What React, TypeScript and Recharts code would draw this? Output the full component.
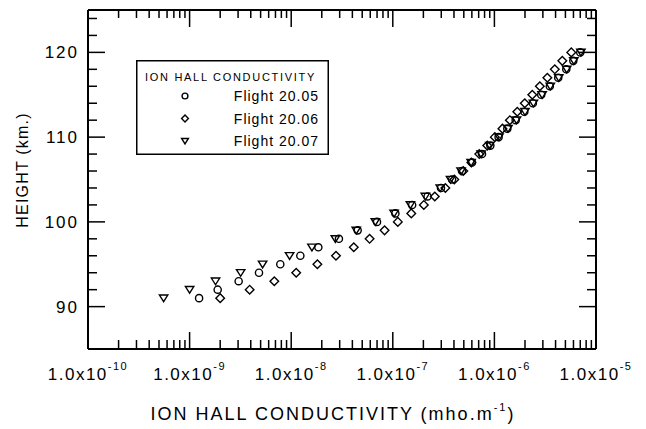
import { ScatterChart, Scatter, XAxis, YAxis, Legend } from "recharts";

// heights (km) shared by all three flights
const heights = [
  91, 92, 93, 94, 95, 96, 97, 98, 99, 100, 101, 102, 103, 104, 105, 106, 107, 108, 109, 110, 111, 112, 113,
  114, 115, 116, 117, 118, 119, 120,
];

// ion Hall conductivity, mho/m
const flight2005 = [
  1.24e-9, 1.89e-9, 3.04e-9, 4.82e-9, 7.81e-9, 1.23e-8, 1.85e-8, 2.95e-8, 4.51e-8, 6.99e-8, 1.06e-7, 1.55e-7,
  2.2e-7, 2.98e-7, 3.83e-7, 4.8e-7, 6.02e-7, 7.55e-7, 9.12e-7, 1.1e-6, 1.34e-6, 1.62e-6, 1.97e-6, 2.39e-6,
  2.89e-6, 3.51e-6, 4.25e-6, 5.1e-6, 5.98e-6, 7.0e-6,
];
const flight2006 = [
  2.0e-9, 3.9e-9, 6.82e-9, 1.12e-8, 1.81e-8, 2.76e-8, 4.13e-8, 5.91e-8, 8.3e-8, 1.12e-7, 1.52e-7, 2.02e-7,
  2.59e-7, 3.29e-7, 4.03e-7, 4.94e-7, 5.93e-7, 7.1e-7, 8.51e-7, 1.01e-6, 1.2e-6, 1.42e-6, 1.68e-6, 1.99e-6,
  2.36e-6, 2.8e-6, 3.32e-6, 3.93e-6, 4.66e-6, 5.71e-6,
];
const flight2007 = [
  5.55e-10, 1.0e-9, 1.8e-9, 3.18e-9, 5.23e-9, 9.64e-9, 1.6e-8, 2.72e-8, 4.37e-8, 6.73e-8, 1.03e-7, 1.49e-7,
  2.09e-7, 2.93e-7, 3.7e-7, 4.7e-7, 5.9e-7, 7.4e-7, 9.0e-7, 1.11e-6, 1.36e-6, 1.65e-6, 2.0e-6, 2.42e-6,
  2.95e-6, 3.55e-6, 4.3e-6, 5.15e-6, 6.05e-6, 7.1e-6,
];

const xMajor = [1e-10, 1e-9, 1e-8, 1e-7, 1e-6, 1e-5];
const xExponents = ["-10", "-9", "-8", "-7", "-6", "-5"];
const xMinorSteps = [2, 3, 4, 5, 6, 7, 8, 9];
const yMajor = [90, 100, 110, 120];
const yMinor = [92, 94, 96, 98, 102, 104, 106, 108, 112, 114, 116, 118, 122, 124];

const legendTitle = "ION HALL CONDUCTIVITY";
const seriesNames = ["Flight 20.05", "Flight 20.06", "Flight 20.07"];

const FONT = '"Liberation Sans", Arial, Helvetica, sans-serif';

const xTicks: number[] = [];
xMajor.forEach((m, i) => {
  xTicks.push(m);
  if (i < xMajor.length - 1) xMinorSteps.forEach((k) => xTicks.push(m * k));
});
const yTicks = [...yMajor, ...yMinor].sort((a, b) => a - b);

const toPoints = (vals: number[]) => vals.map((v, i) => ({ x: v, y: heights[i] }));
const d2005 = toPoints(flight2005);
const d2006 = toPoints(flight2006);
const d2007 = toPoints(flight2007);

const majorIdx = (v: number) => xMajor.findIndex((m) => Math.abs(v / m - 1) < 1e-6);

function Circle({ cx, cy, r = 3.6 }: any) {
  return <circle cx={cx} cy={cy} r={r} fill="none" stroke="#000" strokeWidth={1.4} />;
}
function Diamond({ cx, cy, s = 4.3 }: any) {
  return (
    <path
      d={`M${cx},${cy - s}L${cx + s},${cy}L${cx},${cy + s}L${cx - s},${cy}Z`}
      fill="none"
      stroke="#000"
      strokeWidth={1.4}
    />
  );
}
function Triangle({ cx, cy, s = 4.2 }: any) {
  return (
    <path
      d={`M${cx - s},${cy - s * 0.75}L${cx + s},${cy - s * 0.75}L${cx},${cy + s * 0.85}Z`}
      fill="none"
      stroke="#000"
      strokeWidth={1.4}
    />
  );
}

function BottomTick({ x, y, payload }: any) {
  const i = majorIdx(payload.value);
  const major = i >= 0;
  return (
    <g>
      <line x1={x} x2={x} y1={y} y2={y - (major ? 17 : 9)} stroke="#000" strokeWidth={1.5} />
      {major && (
        <text x={x} y={y + 31} textAnchor="middle" fontSize={17} letterSpacing={1.5} fontFamily={FONT} fill="#000">
          1.0x10
          <tspan fontSize={11} dy={-10}>
            {xExponents[i]}
          </tspan>
        </text>
      )}
    </g>
  );
}
function TopTick({ x, y, payload }: any) {
  const major = majorIdx(payload.value) >= 0;
  return <line x1={x} x2={x} y1={y} y2={y + (major ? 17 : 8)} stroke="#000" strokeWidth={1.5} />;
}
function LeftTick({ x, y, payload }: any) {
  const major = yMajor.includes(payload.value);
  return (
    <g>
      <line x1={x} x2={x + (major ? 17 : 9)} y1={y} y2={y} stroke="#000" strokeWidth={1.5} />
      {major && (
        <text x={x - 9} y={y} dy="0.36em" textAnchor="end" fontSize={17} letterSpacing={2} fontFamily={FONT} fill="#000">
          {payload.value}
        </text>
      )}
    </g>
  );
}
function RightTick({ x, y, payload }: any) {
  const major = yMajor.includes(payload.value);
  return <line x1={x} x2={x - (major ? 17 : 9)} y1={y} y2={y} stroke="#000" strokeWidth={1.5} />;
}

function XTitle() {
  return (
    <text x={333} y={420} textAnchor="middle" fontSize={18} letterSpacing={2} fontFamily={FONT} fill="#000">
      ION HALL CONDUCTIVITY (mho.m
      <tspan fontSize={11} dy={-9}>
        -1
      </tspan>
      <tspan dy={9}>)</tspan>
    </text>
  );
}
function YTitle() {
  return (
    <text
      x={28}
      y={170}
      transform="rotate(-90, 28, 170)"
      textAnchor="middle"
      fontSize={16}
      letterSpacing={1.2}
      fontFamily={FONT}
      fill="#000"
    >
      HEIGHT (km.)
    </text>
  );
}

function LegendBox() {
  const rows = [36, 58.5, 81];
  const marks = [Circle, Diamond, Triangle];
  return (
    <svg width={193} height={95} style={{ display: "block" }}>
      <rect x={0.75} y={0.75} width={191.5} height={93.5} fill="#fff" stroke="#000" strokeWidth={1.5} />
      <text x={9} y={21} fontSize={11} letterSpacing={1.7} fontFamily={FONT} fill="#000">
        {legendTitle}
      </text>
      {seriesNames.map((name, i) => {
        const Mark = marks[i];
        return (
          <g key={name}>
            <Mark cx={49} cy={rows[i]} r={2.9} s={3.4} />
            <text x={183} y={rows[i] + 5} textAnchor="end" fontSize={14} letterSpacing={1} fontFamily={FONT} fill="#000">
              {name}
            </text>
          </g>
        );
      })}
    </svg>
  );
}

export default function App() {
  const axisLine = { stroke: "#000", strokeWidth: 2 };
  return (
    <div style={{ position: "absolute", left: 0, top: 0, width: 646, height: 429, background: "#fff" }}>
      <ScatterChart width={646} height={429} margin={{ top: 0, right: 0, bottom: 0, left: 0 }}>
        <XAxis
          dataKey="x"
          type="number"
          scale="log"
          domain={[1e-10, 1e-5]}
          allowDataOverflow
          ticks={xTicks}
          interval={0}
          tick={BottomTick}
          tickLine={false}
          tickSize={0}
          tickMargin={0}
          height={80}
          axisLine={axisLine}
          label={<XTitle />}
        />
        <XAxis
          xAxisId="top"
          orientation="top"
          dataKey="x"
          type="number"
          scale="log"
          domain={[1e-10, 1e-5]}
          allowDataOverflow
          ticks={xTicks}
          interval={0}
          tick={TopTick}
          tickLine={false}
          tickSize={0}
          tickMargin={0}
          height={10}
          axisLine={axisLine}
        />
        <YAxis
          dataKey="y"
          type="number"
          domain={[85, 125]}
          allowDataOverflow
          ticks={yTicks}
          interval={0}
          tick={LeftTick}
          tickLine={false}
          tickSize={0}
          tickMargin={0}
          width={88}
          axisLine={axisLine}
          label={<YTitle />}
        />
        <YAxis
          yAxisId="right"
          orientation="right"
          dataKey="y"
          type="number"
          domain={[85, 125]}
          allowDataOverflow
          ticks={yTicks}
          interval={0}
          tick={RightTick}
          tickLine={false}
          tickSize={0}
          tickMargin={0}
          width={50}
          axisLine={axisLine}
        />
        <Scatter name={seriesNames[1]} data={d2006} shape={Diamond} isAnimationActive={false} />
        <Scatter name={seriesNames[2]} data={d2007} shape={Triangle} isAnimationActive={false} />
        <Scatter name={seriesNames[0]} data={d2005} shape={Circle} isAnimationActive={false} />
        <Legend
          layout="vertical"
          align="center"
          verticalAlign="middle"
          wrapperStyle={{ position: "absolute", left: 136, top: 60, width: 193, height: 95 }}
          content={() => <LegendBox />}
        />
      </ScatterChart>
    </div>
  );
}
